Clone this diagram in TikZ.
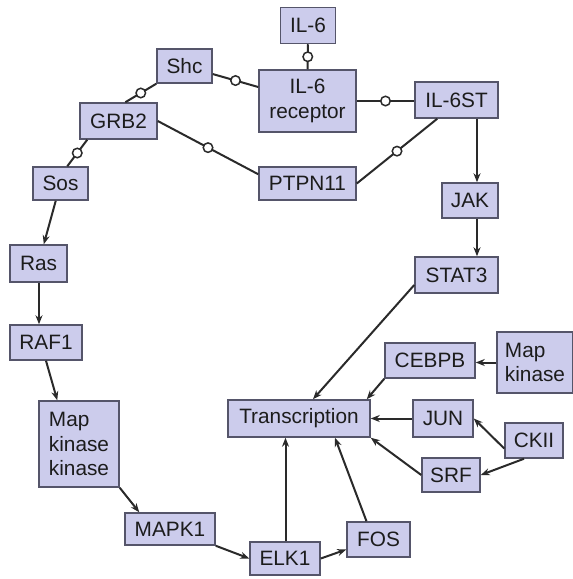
\documentclass[tikz,border=0pt]{standalone}
\usepackage{fontspec}
\setmainfont{Liberation Sans}
\usepackage{tikz}
\usetikzlibrary{arrows.meta, positioning, calc}
\usepackage{xcolor}
\definecolor{boxfill}{HTML}{CCCCEC}
\definecolor{boxline}{HTML}{55556A}
\definecolor{wire}{HTML}{2A2A2A}
\definecolor{ink}{HTML}{1C1C1C}

\begin{document}
\begin{tikzpicture}[x=1pt, y=-1pt,
    gene/.style={draw=boxline, fill=boxfill, line width=1.5pt, inner sep=0pt, text=ink,
        font=\fontsize{20.8}{24.5}\selectfont},
    bind/.style={draw=wire, line width=2pt},
    knob/.style={circle, draw=wire, fill=white, line width=1.5pt, inner sep=0pt, minimum size=9.5pt},
    act/.style={draw=wire, line width=2pt, -{Stealth[length=9pt, width=7pt]}}]
        \useasboundingbox (0,0) rectangle (573,579);

        % Receptor complex
        \node[gene, minimum width=55pt, minimum height=36pt] (il6) at (308, 25.5) {IL-6};
        \node[gene, minimum width=97pt, minimum height=62pt, align=center] (rec) at (307.5, 101) {IL-6\\receptor};
        \node[gene, minimum width=83pt, minimum height=36pt] (il6st) at (456.5, 100) {IL-6ST};
        \node[gene, minimum width=97pt, minimum height=33pt] (ptpn) at (307.5, 183.5) {PTPN11};

        % Adaptors
        \node[gene, minimum width=55pt, minimum height=34pt] (shc) at (184.5, 66) {Shc};
        \node[gene, minimum width=77pt, minimum height=36pt] (grb2) at (118.5, 121) {GRB2};
        \node[gene, minimum width=55pt, minimum height=33pt] (sos) at (60.5, 183.5) {Sos};

        % MAP kinase cascade
        \node[gene, minimum width=57pt, minimum height=37pt] (ras) at (38.5, 263.5) {Ras};
        \node[gene, minimum width=72pt, minimum height=35pt] (raf) at (46, 342.5) {RAF1};
        \node[gene, minimum width=80pt, minimum height=86pt, align=left] (mkk) at (79, 444) {Map\\kinase\\kinase};
        \node[gene, minimum width=90pt, minimum height=32pt] (mapk) at (170, 529) {MAPK1};
        \node[gene, minimum width=70pt, minimum height=33pt] (elk) at (285, 558.5) {ELK1};
        \node[gene, minimum width=63pt, minimum height=35pt] (fos) at (378.5, 539.5) {FOS};

        % JAK / STAT
        \node[gene, minimum width=56pt, minimum height=35pt] (jak) at (470, 200.5) {JAK};
        \node[gene, minimum width=83pt, minimum height=36pt] (stat) at (456.5, 275) {STAT3};

        % Transcription and its inputs
        \node[gene, minimum width=142pt, minimum height=37pt] (trans) at (299, 418.5) {Transcription};
        \node[gene, minimum width=90pt, minimum height=35pt] (cebpb) at (430, 360.5) {CEBPB};
        \node[gene, minimum width=76pt, minimum height=61pt, align=left] (mk) at (535, 362.5) {Map\\kinase};
        \node[gene, minimum width=60pt, minimum height=37pt] (jun) at (443, 418.5) {JUN};
        \node[gene, minimum width=58pt, minimum height=35pt] (ckii) at (534, 440.5) {CKII};
        \node[gene, minimum width=58pt, minimum height=34pt] (srf) at (451, 475) {SRF};

        % Binding links
        \draw[bind] (il6.south) -- node[knob] (k1) {} (rec.north);
        \draw[bind] (shc) -- node[knob] (k2) {} (rec);
        \draw[bind] (grb2.70) -- node[knob] (k3) {} (shc.south west);
        \draw[bind] ([xshift=8pt]grb2.south west) -- node[knob] (k4) {} ([xshift=35pt]sos.north west);
        \draw[bind] (grb2.east) -- node[knob] (k5) {} ([yshift=-8pt]ptpn.north west);
        \draw[bind] (rec.east) -- node[knob] (k6) {} (rec.east -| il6st.west);
        \draw[bind] (ptpn.east) -- node[knob] (k7) {} ([xshift=23pt]il6st.south west);

        % Activation arrows
        \draw[act] (sos) -- (ras);
        \draw[act] ([xshift=0.5pt]ras.south) -- ([xshift=0.5pt]ras.south |- raf.north);
        \draw[act] (raf.south) -- ([xshift=19pt]mkk.north west);
        \draw[act] (mkk.south east) -- ([xshift=15pt]mapk.north west);
        \draw[act] (mapk.south east) -- (elk.west);
        \draw[act] (elk.east) -- ([yshift=-10pt]fos.west);
        \draw[act] ([xshift=0.5pt]elk.north) -- ([xshift=0.5pt]elk.north |- trans.south);
        \draw[act] ([xshift=-12pt]fos.north) -- ([xshift=36pt]trans.south);
        \draw[act] ([xshift=20.5pt]il6st.south) -- ([xshift=20.5pt]il6st.south |- jak.north);
        \draw[act] ([xshift=7pt]jak.south) -- ([xshift=7pt]jak.south |- stat.north);
        \draw[act] ([yshift=-10pt]stat.west) -- ([xshift=14pt]trans.north);
        \draw[act] (cebpb.south west) -- ([xshift=-4pt]trans.north east);
        \draw[act] (mk.west) -- (mk.west -| cebpb.east);
        \draw[act] (jun.west) -- (jun.west -| trans.east);
        \draw[act] ([yshift=-8pt]ckii.west) -- (jun.east);
        \draw[act] ([xshift=-10pt]ckii.south) -- (srf.east);
        \draw[act] (srf.west) -- (trans.south east);
    \end{tikzpicture}
\end{document}
